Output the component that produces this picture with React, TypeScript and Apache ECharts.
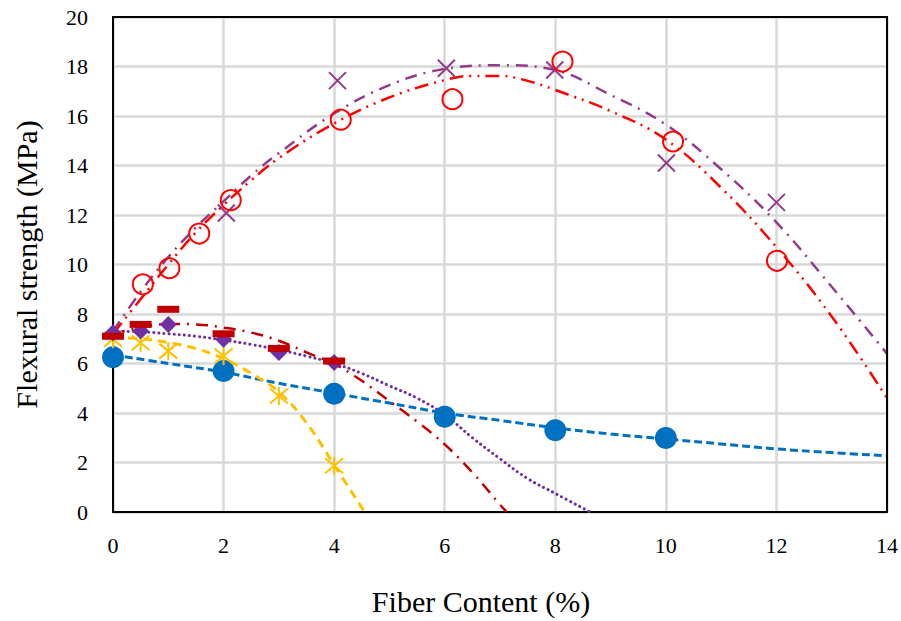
import React, { useEffect, useRef } from "react";
import * as echarts from "echarts";

// ---- data ----
const xTicks = [0, 2, 4, 6, 8, 10, 12, 14];

const circleX = [0.54, 1.02, 1.56, 2.13, 4.12, 6.14, 8.13, 10.13, 12.01];
const circleY = [9.2, 9.85, 11.25, 12.6, 15.85, 16.68, 18.2, 14.97, 10.15];

const crossX = [2.05, 4.06, 6.03, 7.99, 10.01, 12.0];
const crossY = [12.08, 17.43, 17.93, 17.86, 14.1, 12.51];

const dashX = [0, 0.5, 1, 2, 3, 4];
const dashY = [7.1, 7.58, 8.19, 7.2, 6.61, 6.1];

const diamondX = [0, 0.5, 1, 2, 3, 4];
const diamondY = [7.24, 7.31, 7.58, 6.98, 6.44, 6.04];

const starX = [0, 0.5, 1, 2, 3, 4];
const starY = [6.98, 6.84, 6.5, 6.3, 4.69, 1.87];

const dotX = [0, 2, 4, 6, 8, 10];
const dotY = [6.25, 5.7, 4.78, 3.85, 3.3, 2.99];

// trend lines
const trendRedX = [0, 0.5, 1, 1.5, 2, 2.5, 3, 4, 5, 6, 6.5, 7, 7.5, 8, 9, 10, 11, 12, 13, 14];
const trendRedY = [7.2, 8.6, 10.0, 11.3, 12.4, 13.4, 14.3, 15.7, 16.75, 17.45, 17.62, 17.62, 17.42, 17.05, 16.2, 15.05, 13.1, 10.7, 7.9, 4.6];

const trendPurpleX = [0, 0.5, 1, 1.5, 2, 2.5, 3, 4, 5, 6, 7, 8, 9, 10, 11, 12, 13, 14];
const trendPurpleY = [7.3, 8.9, 10.3, 11.5, 12.55, 13.6, 14.5, 16.1, 17.25, 17.9, 18.05, 17.85, 16.85, 15.65, 13.85, 11.7, 9.1, 6.4];

const trendDarkRedX = [0, 0.5, 1, 1.5, 2, 2.5, 3, 3.5, 4, 4.5, 5, 5.5, 6, 6.5, 7, 7.12];
const trendDarkRedY = [7.2, 7.45, 7.6, 7.58, 7.45, 7.25, 6.92, 6.45, 5.98, 5.3, 4.48, 3.65, 2.73, 1.6, 0.3, 0];

const trendDottedX = [0, 0.5, 1, 1.5, 2, 2.5, 3, 3.5, 4, 4.5, 5, 5.5, 6, 6.5, 7, 7.5, 8, 8.63];
const trendDottedY = [7.3, 7.28, 7.2, 7.1, 6.95, 6.77, 6.55, 6.3, 6.0, 5.6, 5.1, 4.6, 3.93, 3.0, 2.15, 1.35, 0.75, 0];

const trendStarX = [0, 0.5, 1, 1.5, 2, 2.5, 3, 3.5, 4, 4.55];
const trendStarY = [7.05, 7.0, 6.85, 6.6, 6.2, 5.6, 4.85, 3.6, 1.9, 0];

const trendBlueX = [0, 1, 2, 3, 4, 5, 6, 7, 8, 9, 10, 11, 12, 13, 14];
const trendBlueY = [6.35, 6.0, 5.65, 5.2, 4.8, 4.4, 4.0, 3.7, 3.4, 3.15, 2.95, 2.75, 2.55, 2.4, 2.27];

const pair = (xs: number[], ys: number[]) => xs.map((x, i) => [x, ys[i]]);

const FONT = "Liberation Serif";

const RED = "#FF0000";
const PLUM = "#953B8A";
const DARKRED = "#C00000";
const PURPLE = "#7030A0";
const GOLD = "#FFC000";
const BLUE = "#0070C0";

export default function App() {
  const ref = useRef<HTMLDivElement>(null);

  useEffect(() => {
    if (!ref.current) return;
    const chart = echarts.init(ref.current, undefined, { renderer: "svg" });

    const trend = (name: string, xs: number[], ys: number[], color: string, type: any, width: number, cap = "butt") => ({
      name,
      type: "line",
      data: pair(xs, ys),
      showSymbol: false,
      symbol: "none",
      smooth: 0.4,
      lineStyle: { color, width, type, cap },
      z: 3,
      silent: true,
    });

    const scatter = (name: string, xs: number[], ys: number[], symbol: string, size: any, item: any) => ({
      name,
      type: "scatter",
      data: pair(xs, ys),
      symbol,
      symbolSize: size,
      itemStyle: { opacity: 1, ...item },
      z: 4,
      silent: true,
    });

    const frameAxis = {
      type: "value",
      axisLine: { show: true, onZero: false, lineStyle: { color: "#000", width: 2 } },
      axisTick: { show: false },
      axisLabel: { show: false },
      splitLine: { show: false },
    };

    chart.setOption({
      animation: false,
      backgroundColor: "#fff",
      grid: {
        left: 113,
        top: 17,
        width: 774,
        height: 496,
        containLabel: false,
      },
      xAxis: [
        {
          type: "value",
          min: xTicks[0],
          max: xTicks[xTicks.length - 1],
          interval: 2,
          name: "Fiber Content (%)",
          nameLocation: "middle",
          nameGap: 74,
          nameTextStyle: { fontFamily: FONT, fontSize: 30, color: "#000", padding: [0, 38, 0, 0] },
          axisLine: { show: true, onZero: false, lineStyle: { color: "#000", width: 2 } },
          axisTick: { show: false },
          axisLabel: { fontFamily: FONT, fontSize: 22, color: "#000", margin: 22 },
          splitLine: { show: true, lineStyle: { color: "#D9D9D9", width: 2.5 } },
          z: 2,
        },
        { ...frameAxis, position: "top", min: 0, max: 14, z: 5 },
      ],
      yAxis: [
        {
          type: "value",
          min: 0,
          max: 20,
          interval: 2,
          name: "Flexural strength (MPa)",
          nameLocation: "middle",
          nameGap: 72,
          nameTextStyle: { fontFamily: FONT, fontSize: 30, color: "#000" },
          axisLine: { show: true, onZero: false, lineStyle: { color: "#000", width: 2 } },
          axisTick: { show: false },
          axisLabel: { fontFamily: FONT, fontSize: 22, color: "#000", margin: 25 },
          splitLine: { show: true, lineStyle: { color: "#D9D9D9", width: 2.5 } },
          z: 2,
        },
        { ...frameAxis, position: "right", min: 0, max: 20, z: 5 },
      ],
      series: [
        trend("trendBlue", trendBlueX, trendBlueY, BLUE, [8, 4], 3),
        trend("trendStar", trendStarX, trendStarY, GOLD, [9, 6], 3),
        trend("trendDotted", trendDottedX, trendDottedY, PURPLE, [0.1, 5], 3, "round"),
        trend("trendDarkRed", trendDarkRedX, trendDarkRedY, DARKRED, [12, 7, 2, 7], 2.5),
        trend("trendPurple", trendPurpleX, trendPurpleY, PLUM, [12, 7, 2, 7], 2.5),
        trend("trendRed", trendRedX, trendRedY, RED, [14, 6, 2, 6, 2, 6], 2.5),
        scatter("blue", dotX, dotY, "circle", 22, { color: BLUE }),
        scatter("star", starX, starY, "path://M0,0 L10,10 M10,0 L0,10 M5,-1 L5,11", 18, {
          color: GOLD,
          borderColor: GOLD,
          borderWidth: 2,
        }),
        scatter("diamond", diamondX, diamondY, "diamond", 17, { color: PURPLE }),
        scatter("dash", dashX, dashY, "rect", [22, 7], { color: DARKRED }),
        scatter("cross", crossX, crossY, "path://M0,0 L10,10 M10,0 L0,10", 17, {
          color: PLUM,
          borderColor: PLUM,
          borderWidth: 2,
        }),
        scatter("circle", circleX, circleY, "circle", 20, {
          color: "rgba(0,0,0,0)",
          borderColor: RED,
          borderWidth: 2,
        }),
      ],
    });

    return () => chart.dispose();
  }, []);

  return (
    <div
      ref={ref}
      style={{ position: "fixed", left: 0, top: 0, width: 901, height: 621, background: "#fff" }}
    />
  );
}
